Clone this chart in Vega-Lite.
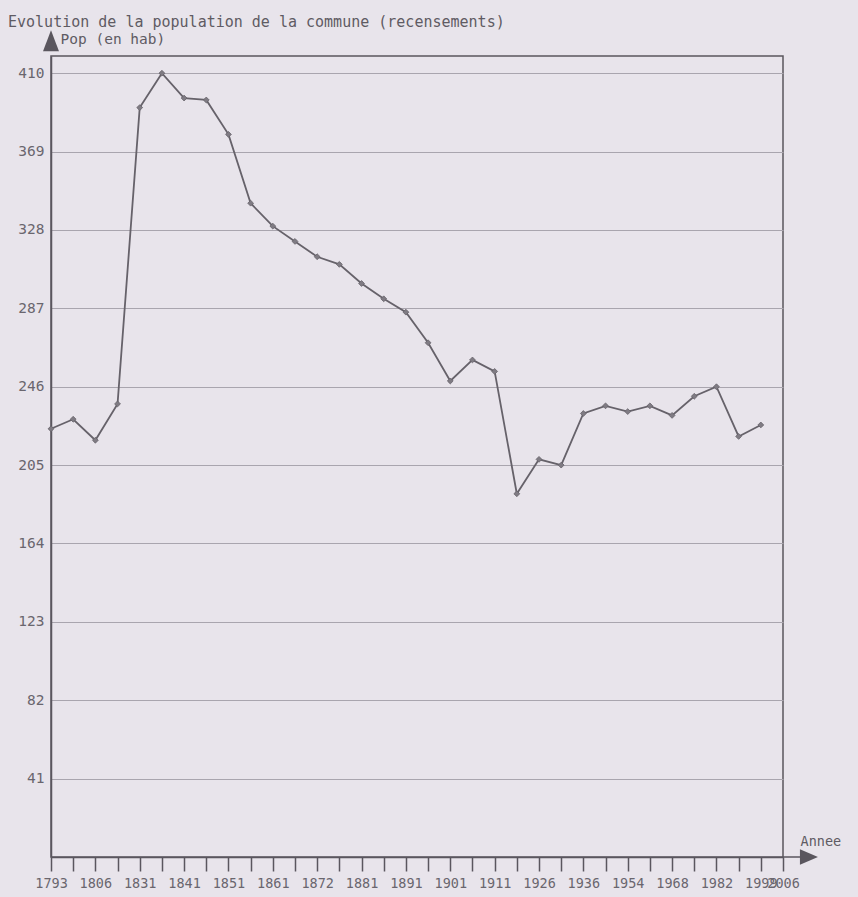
{
  "$schema": "https://vega.github.io/schema/vega-lite/v6.json",
  "width": 732,
  "height": 801,
  "autosize": "none",
  "padding": {"left": 51, "top": 56, "right": 75, "bottom": 40},
  "background": "#e8e4eb",
  "title": {
    "text": "Evolution de la population de la commune (recensements)",
    "anchor": "start",
    "frame": "group",
    "font": "DejaVu Sans Mono",
    "fontSize": 15,
    "fontWeight": "normal",
    "color": "#5f5b63",
    "dx": -43,
    "dy": 32,
    "baseline": "alphabetic",
    "offset": 20
  },
  "config": {
    "view": {"stroke": "#5a565e", "strokeWidth": 1.5},
    "axis": {"labelFont": "DejaVu Sans Mono", "titleFont": "DejaVu Sans Mono", "labelColor": "#6a666e", "titleColor": "#5f5b63", "titleFontWeight": "normal"}
  },
  "resolve": {"scale": {"x": "independent", "y": "independent"}},
  "layer": [
    {
      "data": {
        "values": [
          {"annee": 1793, "pop": 224},
          {"annee": 1800, "pop": 229},
          {"annee": 1806, "pop": 218},
          {"annee": 1821, "pop": 237},
          {"annee": 1831, "pop": 392},
          {"annee": 1836, "pop": 410},
          {"annee": 1841, "pop": 397},
          {"annee": 1846, "pop": 396},
          {"annee": 1851, "pop": 378},
          {"annee": 1856, "pop": 342},
          {"annee": 1861, "pop": 330},
          {"annee": 1866, "pop": 322},
          {"annee": 1872, "pop": 314},
          {"annee": 1876, "pop": 310},
          {"annee": 1881, "pop": 300},
          {"annee": 1886, "pop": 292},
          {"annee": 1891, "pop": 285},
          {"annee": 1896, "pop": 269},
          {"annee": 1901, "pop": 249},
          {"annee": 1906, "pop": 260},
          {"annee": 1911, "pop": 254},
          {"annee": 1921, "pop": 190},
          {"annee": 1926, "pop": 208},
          {"annee": 1931, "pop": 205},
          {"annee": 1936, "pop": 232},
          {"annee": 1946, "pop": 236},
          {"annee": 1954, "pop": 233},
          {"annee": 1962, "pop": 236},
          {"annee": 1968, "pop": 231},
          {"annee": 1975, "pop": 241},
          {"annee": 1982, "pop": 246},
          {"annee": 1990, "pop": 220},
          {"annee": 1999, "pop": 226},
          {"annee": 2006, "pop": null}
        ]
      },
      "mark": {
        "type": "line",
        "color": "#66626a",
        "strokeWidth": 1.8,
        "point": {"shape": "diamond", "size": 34, "filled": true, "color": "#7f7b83", "stroke": "#66626a", "strokeWidth": 0.8}
      },
      "encoding": {
        "x": {
          "field": "annee",
          "type": "ordinal",
          "sort": null,
          "scale": {"type": "point", "padding": 0, "domain": [1793,1800,1806,1821,1831,1836,1841,1846,1851,1856,1861,1866,1872,1876,1881,1886,1891,1896,1901,1906,1911,1921,1926,1931,1936,1946,1954,1962,1968,1975,1982,1990,1999,2006]},
          "axis": {
            "title": "Annee",
            "titleAnchor": "start",
            "titleAlign": "left",
            "titleBaseline": "alphabetic",
            "titleX": 749,
            "titleY": -12,
            "titleFontSize": 13.5,
            "labelAngle": 0,
            "labelFontSize": 13.5,
            "labelOverlap": false,
            "labelPadding": 5,
            "labelExpr": "(datum.value == 1793 || datum.value == 1806 || datum.value == 1831 || datum.value == 1841 || datum.value == 1851 || datum.value == 1861 || datum.value == 1872 || datum.value == 1881 || datum.value == 1891 || datum.value == 1901 || datum.value == 1911 || datum.value == 1926 || datum.value == 1936 || datum.value == 1954 || datum.value == 1968 || datum.value == 1982 || datum.value == 1999 || datum.value == 2006) ? datum.label : ''",
            "tickSize": 14,
            "tickWidth": 1.5,
            "tickColor": "#5a565e",
            "domainColor": "#5a565e",
            "domainWidth": 1.5,
            "grid": false
          }
        },
        "y": {
          "field": "pop",
          "type": "quantitative",
          "scale": {"domain": [0, 419], "nice": false, "zero": true},
          "axis": {
            "title": "Pop (en hab)",
            "titleAngle": 0,
            "titleAlign": "left",
            "titleBaseline": "alphabetic",
            "titleX": 9,
            "titleY": -13,
            "titleFontSize": 14.5,
            "values": [41, 82, 123, 164, 205, 246, 287, 328, 369, 410],
            "labelFontSize": 14.5,
            "labelPadding": 7,
            "ticks": false,
            "grid": true,
            "gridColor": "#a9a5ae",
            "gridWidth": 1.2,
            "domainColor": "#5a565e",
            "domainWidth": 1.5
          }
        }
      }
    },
    {
      "data": {"values": [{}]},
      "layer": [
        {
          "mark": {"type": "point", "shape": "M0,-1L0.76,1L-0.76,1Z", "size": 441, "filled": true, "color": "#5a565e", "opacity": 1},
          "encoding": {
            "x": {"datum": 0, "type": "quantitative", "scale": {"domain": [0, 33], "nice": false, "zero": false}, "axis": null},
            "y": {"datum": 427, "type": "quantitative", "scale": {"domain": [0, 419], "nice": false}, "axis": null}
          }
        },
        {
          "mark": {"type": "point", "shape": "M1,0L-1,-0.85L-1,0.85Z", "size": 324, "filled": true, "color": "#5a565e", "opacity": 1},
          "encoding": {
            "x": {"datum": 34.17, "type": "quantitative", "scale": {"domain": [0, 33], "nice": false, "zero": false}, "axis": null},
            "y": {"datum": 0, "type": "quantitative", "scale": {"domain": [0, 419], "nice": false}, "axis": null}
          }
        },
        {
          "mark": {"type": "rule", "color": "#5a565e", "strokeWidth": 1.5},
          "encoding": {
            "x": {"datum": 33, "type": "quantitative", "scale": {"domain": [0, 33], "nice": false, "zero": false}, "axis": null},
            "x2": {"datum": 33.8},
            "y": {"datum": 0, "type": "quantitative", "scale": {"domain": [0, 419], "nice": false}, "axis": null}
          }
        }
      ]
    }
  ]
}
